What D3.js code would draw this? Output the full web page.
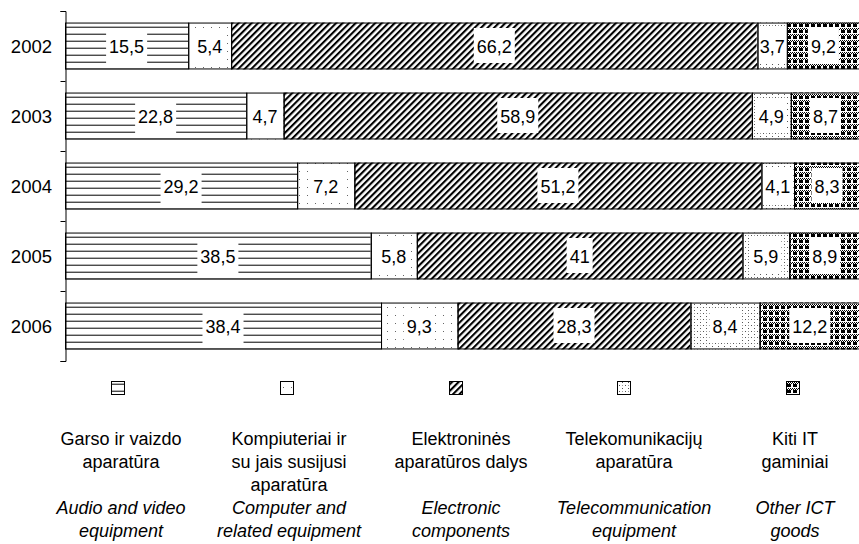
<!DOCTYPE html>
<html><head><meta charset="utf-8">
<script src="https://cdn.jsdelivr.net/npm/d3@7"></script>
<style>html,body{margin:0;padding:0;background:#fff;}svg{display:block;}</style>
</head><body>
<svg id="chart" width="859" height="544"></svg>
<script>
const years = ["2002","2003","2004","2005","2006"];
const audio = [15.5,22.8,29.2,38.5,38.4];
const computer = [5.4,4.7,7.2,5.8,9.3];
const electronic = [66.2,58.9,51.2,41,28.3];
const telecom = [3.7,4.9,4.1,5.9,8.4];
const other = [9.2,8.7,8.3,8.9,12.2];
const seriesKeys = ["audio","computer","electronic","telecom","other"];
const labelsLT = [["Garso ir vaizdo","aparatūra"],["Kompiuteriai ir","su jais susijusi","aparatūra"],["Elektroninės","aparatūros dalys"],["Telekomunikacijų","aparatūra"],["Kiti IT","gaminiai"]];
const labelsEN = [["Audio and video","equipment"],["Computer and","related equipment"],["Electronic","components"],["Telecommunication","equipment"],["Other ICT","goods"]];

const svg = d3.select("#chart");
const font = "Arial, 'Liberation Sans', sans-serif";
const defs = svg.append("defs");

// patterns
const p1 = defs.append("pattern").attr("id","p0").attr("patternUnits","userSpaceOnUse").attr("width",8).attr("height",7).attr("y",0.7);
p1.append("rect").attr("width",8).attr("height",7).attr("fill","#fff");
p1.append("rect").attr("x",0).attr("y",5).attr("width",8).attr("height",1).attr("fill","#000");

const p2 = defs.append("pattern").attr("id","p1").attr("patternUnits","userSpaceOnUse").attr("width",8).attr("height",8);
p2.append("rect").attr("width",8).attr("height",8).attr("fill","#fff");
p2.append("rect").attr("x",3).attr("y",3).attr("width",1).attr("height",1).attr("fill","#666");

const p3 = defs.append("pattern").attr("id","p2").attr("patternUnits","userSpaceOnUse").attr("width",4.6).attr("height",4.6).attr("patternTransform","rotate(45)");
p3.append("rect").attr("width",4.6).attr("height",4.6).attr("fill","#fff");
p3.append("rect").attr("x",0).attr("y",0).attr("width",2.1).attr("height",4.6).attr("fill","#000");

const p4 = defs.append("pattern").attr("id","p3").attr("patternUnits","userSpaceOnUse").attr("width",6).attr("height",6);
p4.append("rect").attr("width",6).attr("height",6).attr("fill","#fff");
p4.append("rect").attr("x",1).attr("y",1).attr("width",1).attr("height",1).attr("fill","#555");
p4.append("rect").attr("x",4).attr("y",4).attr("width",1).attr("height",1).attr("fill","#555");
p4.append("rect").attr("x",4).attr("y",1).attr("width",1).attr("height",1).attr("fill","#999");

const p5 = defs.append("pattern").attr("id","p4").attr("patternUnits","userSpaceOnUse").attr("width",6).attr("height",6);
p5.append("rect").attr("width",6).attr("height",6).attr("fill","#fff");
p5.append("rect").attr("x",1).attr("y",0).attr("width",4).attr("height",3).attr("fill","#000");
[[0,4],[2,4],[4,4],[1,5],[3,5],[5,5]].forEach(([x,y])=>p5.append("rect").attr("x",x).attr("y",y).attr("width",1).attr("height",1).attr("fill","#000"));

// data
const rows = years.map((yr,i)=>({year:yr,audio:audio[i],computer:computer[i],electronic:electronic[i],telecom:telecom[i],other:other[i]}));
const stack = d3.stack().keys(seriesKeys).offset(d3.stackOffsetExpand);
const stacked = stack(rows);

const x = d3.scaleLinear().domain([0,1]).range([65,860]);
const y = d3.scaleBand().domain(years).range([11,361]).paddingInner(0.33).paddingOuter(0.165);

const g = svg.append("g");
stacked.forEach((s,si)=>{
  g.selectAll(null).data(s).enter().append("rect")
    .attr("x",d=>x(d[0])).attr("y",d=>y(d.data.year))
    .attr("width",d=>x(d[1])-x(d[0])).attr("height",y.bandwidth())
    .attr("fill",`url(#p${si})`);
});
// label boxes
const fmt = v=>String(v).replace(".",",");
stacked.forEach((s,si)=>{
  s.forEach(d=>{
    const v = d.data[s.key];
    const cx = (x(d[0])+x(d[1]))/2, cy = y(d.data.year)+y.bandwidth()/2;
    const t = g.append("text").attr("x",cx).attr("y",cy+6.5).attr("text-anchor","middle")
      .attr("font-family",font).attr("font-size",18).attr("fill","#000").text(fmt(v));
    const w = t.node().getComputedTextLength();
    g.insert("rect",()=>t.node()).attr("x",cx-w/2-3).attr("y",cy-18).attr("width",w+6).attr("height",35).attr("fill","#fff");
  });
});
// outlines
stacked.forEach((s,si)=>{
  g.selectAll(null).data(s).enter().append("rect")
    .attr("x",d=>x(d[0])+0.5).attr("y",d=>y(d.data.year)+0.5)
    .attr("width",d=>x(d[1])-x(d[0])).attr("height",y.bandwidth()-1)
    .attr("fill","none").attr("stroke","#000").attr("stroke-width",1);
});

// axis with ticks at band boundaries
const yb = d3.scaleLinear().domain([0,years.length]).range([11,361]);
const ax = svg.append("g").attr("transform","translate(65.5,0)")
  .call(d3.axisLeft(yb).ticks(years.length).tickFormat("").tickSize(5).tickSizeOuter(5));
ax.selectAll("path,line").attr("stroke","#000");
svg.selectAll(".ylab").data(years).enter().append("text")
  .attr("x",52).attr("y",d=>y(d)+y.bandwidth()/2+6.5).attr("text-anchor","end")
  .attr("font-family",font).attr("font-size",18.5).attr("fill","#000").text(d=>d);

// legend
const legX = [118,287,456,624,793];
const textX = [121,289,461,634,795];
seriesKeys.forEach((k,i)=>{
  svg.append("rect").attr("x",legX[i]-7+0.5).attr("y",381.5).attr("width",13).attr("height",13)
    .attr("fill",`url(#p${i})`).attr("stroke","#000").attr("stroke-width",1);
  labelsLT[i].forEach((ln,j)=>{
    svg.append("text").attr("x",textX[i]).attr("y",445+j*23).attr("text-anchor","middle")
      .attr("font-family",font).attr("font-size",18).attr("fill","#000").text(ln);
  });
  labelsEN[i].forEach((ln,j)=>{
    svg.append("text").attr("x",textX[i]).attr("y",514+j*23).attr("text-anchor","middle")
      .attr("font-family",font).attr("font-size",18).attr("font-style","italic").attr("fill","#000").text(ln);
  });
});
</script>
</body></html>
